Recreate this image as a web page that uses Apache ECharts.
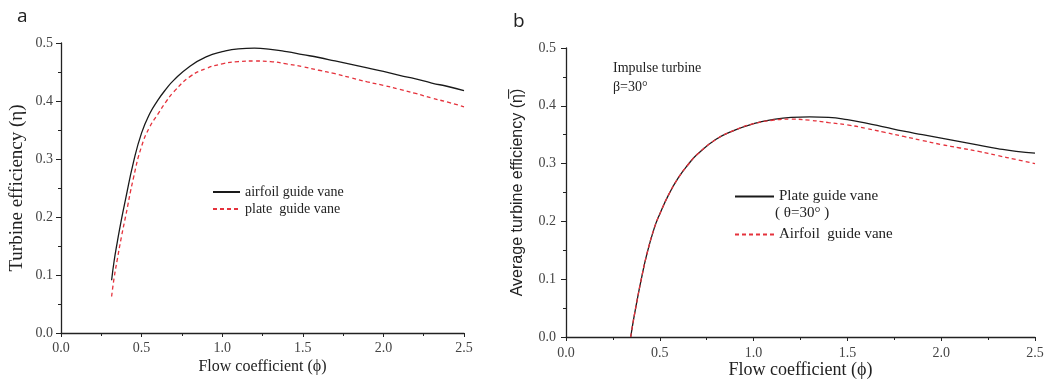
<!DOCTYPE html>
<html>
<head>
<meta charset="utf-8">
<script src="https://cdn.jsdelivr.net/npm/echarts@6/dist/echarts.min.js"></script>
<style>html,body{margin:0;padding:0;background:#fff;}#c{width:1050px;height:381px;}</style>
</head>
<body>
<div id="c"></div>
<script>
// ---- Data (a) ----
const xA = [0.314,0.33,0.35,0.375,0.4,0.45,0.5,0.55,0.6,0.65,0.7,0.8,0.9,1.0,1.1,1.2,1.3,1.4,1.5,1.6,1.7,1.8,1.9,2.0,2.1,2.2,2.3,2.4,2.5];
const airfoilA = [0.091,0.125,0.158,0.196,0.23,0.295,0.345,0.378,0.401,0.42,0.436,0.46,0.476,0.485,0.49,0.491,0.489,0.485,0.48,0.475,0.469,0.463,0.457,0.451,0.444,0.438,0.431,0.425,0.418];
const plateA = [0.063,0.096,0.128,0.166,0.20,0.268,0.322,0.355,0.377,0.398,0.416,0.442,0.456,0.464,0.468,0.469,0.468,0.464,0.459,0.453,0.447,0.44,0.433,0.427,0.42,0.413,0.405,0.398,0.39];
// ---- Data (b) ----
const xB = [0.345,0.36,0.38,0.4,0.43,0.47,0.5,0.55,0.6,0.65,0.7,0.8,0.9,1.0,1.1,1.2,1.3,1.4,1.5,1.6,1.7,1.8,1.9,2.0,2.1,2.2,2.3,2.4,2.5];
const plateB = [0,0.03,0.065,0.098,0.142,0.188,0.213,0.248,0.276,0.298,0.316,0.342,0.358,0.369,0.376,0.38,0.381,0.38,0.376,0.37,0.363,0.356,0.35,0.344,0.338,0.332,0.326,0.321,0.318];
const airfoilB = [0,0.03,0.065,0.098,0.142,0.188,0.213,0.248,0.276,0.298,0.316,0.342,0.358,0.369,0.375,0.377,0.375,0.371,0.367,0.361,0.354,0.347,0.34,0.333,0.327,0.321,0.314,0.307,0.300];
const xTicks = [0.0,0.5,1.0,1.5,2.0,2.5];
const yTicks = [0.0,0.1,0.2,0.3,0.4,0.5];

const pairs = (xs, ys) => xs.map((x, i) => [x, ys[i]]);
const serif = 'Liberation Serif';
const RED = '#e5323c', BLACK = '#1a1a1a';

function xAxis(gi, nameSize, gap, margin) {
  return {
    type: 'value', gridIndex: gi, min: xTicks[0], max: xTicks[xTicks.length-1], interval: 0.5,
    name: 'Flow coefficient (\u03D5)', nameLocation: 'middle', nameGap: gap, nameMoveOverlap: false,
    nameTextStyle: { fontFamily: serif, fontSize: nameSize, color: '#222' },
    axisLine: { show: true, onZero: false, lineStyle: { color: '#222', width: 1.3 } },
    axisTick: { show: true, length: 4, lineStyle: { color: '#222' } },
    minorTick: { show: true, splitNumber: 2, length: 3, lineStyle: { color: '#222' } },
    axisLabel: { fontFamily: serif, fontSize: 14, color: '#444', margin: margin, formatter: v => v.toFixed(1) },
    splitLine: { show: false }
  };
}
function yAxis(gi, name, font, size, gap, margin) {
  return {
    type: 'value', gridIndex: gi, min: yTicks[0], max: yTicks[yTicks.length-1], interval: 0.1,
    name: name, nameLocation: 'middle', nameGap: gap, nameMoveOverlap: false,
    nameTextStyle: { fontFamily: font, fontSize: size, color: '#222' },
    axisLine: { show: true, onZero: false, lineStyle: { color: '#222', width: 1.3 } },
    axisTick: { show: true, length: 5, lineStyle: { color: '#222' } },
    minorTick: { show: true, splitNumber: 2, length: 3, lineStyle: { color: '#222' } },
    axisLabel: { fontFamily: serif, fontSize: 14, color: '#444', margin: margin, formatter: v => v.toFixed(1) },
    splitLine: { show: false }
  };
}
function line(name, xi, data, color, dashed) {
  return {
    name: name, type: 'line', xAxisIndex: xi, yAxisIndex: xi, data: data,
    symbol: 'none', showSymbol: false, smooth: 0.5,
    lineStyle: { color: color, width: 1.3, type: dashed ? [4, 3] : 'solid' },
    itemStyle: { color: color }
  };
}

const chart = echarts.init(document.getElementById('c'), null, { renderer: 'canvas' });
chart.setOption({
  animation: false,
  backgroundColor: '#fff',
  title: [
    { text: 'a', left: 12, top: 2, textStyle: { fontFamily: 'Open Sans', fontSize: 19, fontWeight: 'normal', color: '#222' } },
    { text: 'b', left: 508, top: 7, textStyle: { fontFamily: 'Open Sans', fontSize: 19, fontWeight: 'normal', color: '#222' } }
  ],
  grid: [
    { left: 61, right: 586, top: 43, bottom: 48, outerBoundsMode: 'none', containLabel: false },
    { left: 566, right: 15, top: 48, bottom: 44, outerBoundsMode: 'none', containLabel: false }
  ],
  xAxis: [ xAxis(0, 16, 26, 8), xAxis(1, 18, 24, 9) ],
  yAxis: [
    yAxis(0, 'Turbine efficiency (\u03B7)', serif, 19, 34, 8),
    yAxis(1, 'Average turbine efficiency (\u03B7\u0305)', 'Liberation Sans', 16, 40, 10)
  ],
  legend: [
    { data: ['airfoil guide vane', 'plate  guide vane'], orient: 'vertical', left: 207, top: 180,
      itemWidth: 27, itemHeight: 10, itemGap: 3, itemStyle: { opacity: 0 },
      textStyle: { fontFamily: serif, fontSize: 14, color: '#222', lineHeight: 14 } },
    { data: ['Plate guide vane'], left: 729, top: 184, itemStyle: { opacity: 0 },
      itemWidth: 39, itemHeight: 12, textStyle: { fontFamily: serif, fontSize: 15, color: '#222' } },
    { data: ['Airfoil  guide vane'], left: 729, top: 222, itemStyle: { opacity: 0 },
      itemWidth: 39, itemHeight: 12, textStyle: { fontFamily: serif, fontSize: 15, color: '#222' } }
  ],
  graphic: [
    { type: 'text', left: 613, top: 61, style: { text: 'Impulse turbine', font: '14px "Liberation Serif"', fill: '#222' } },
    { type: 'text', left: 613, top: 80, style: { text: '\u03B2=30\u00B0', font: '14px "Liberation Serif"', fill: '#222' } },
    { type: 'text', left: 775, top: 206, style: { text: '( \u03B8=30\u00B0 )', font: '15px "Liberation Serif"', fill: '#222' } }
  ],
  series: [
    line('airfoil guide vane', 0, pairs(xA, airfoilA), BLACK, false),
    line('plate  guide vane', 0, pairs(xA, plateA), RED, true),
    line('Plate guide vane', 1, pairs(xB, plateB), BLACK, false),
    line('Airfoil  guide vane', 1, pairs(xB, airfoilB), RED, true)
  ]
});
</script>
</body>
</html>
